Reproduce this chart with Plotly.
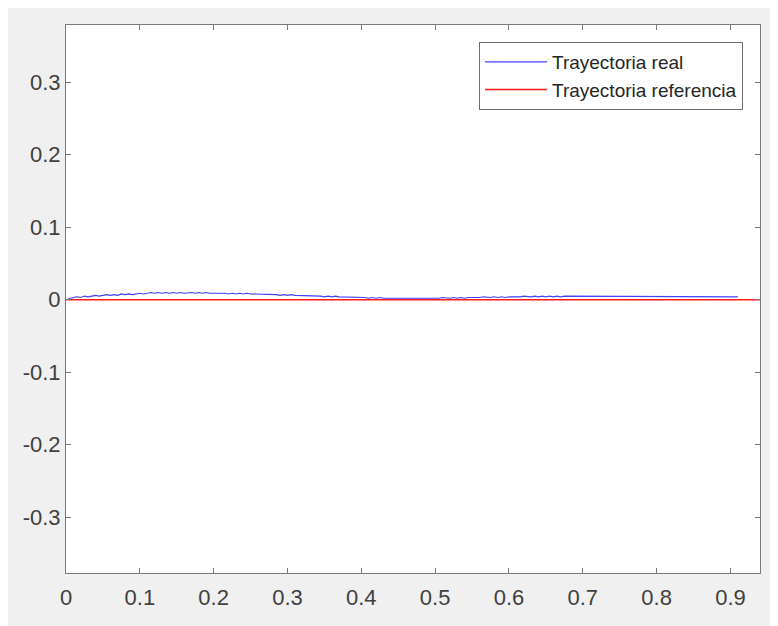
import plotly.graph_objects as go

real_y = [
    0.000, 0.002, 0.003, 0.004, 0.003, 0.005, 0.004, 0.005, 0.006, 0.005, 0.006,
    0.007, 0.006, 0.007, 0.006, 0.008, 0.007, 0.008, 0.007, 0.008, 0.009,
    0.008, 0.009, 0.010, 0.009, 0.010, 0.009, 0.010, 0.009, 0.010, 0.009,
    0.010, 0.009, 0.010, 0.010, 0.009, 0.010, 0.009, 0.010, 0.009, 0.009,
    0.010, 0.009, 0.009, 0.008, 0.009, 0.008, 0.009, 0.008, 0.009, 0.008,
    0.008, 0.007, 0.008, 0.007, 0.008, 0.007, 0.007, 0.006, 0.007, 0.006,
    0.007, 0.006, 0.006, 0.005, 0.006, 0.005, 0.006, 0.005, 0.005, 0.004,
    0.005, 0.004, 0.005, 0.004, 0.004, 0.003, 0.004, 0.003, 0.004, 0.003,
    0.003, 0.002, 0.003, 0.002, 0.003, 0.002, 0.002, 0.001, 0.002, 0.002,
    0.001, 0.002, 0.001, 0.002, 0.002, 0.001, 0.002, 0.002, 0.001, 0.002,
    0.002, 0.003, 0.002, 0.002, 0.003, 0.002, 0.003, 0.002, 0.003, 0.003,
    0.002, 0.003, 0.004, 0.003, 0.003, 0.004, 0.003, 0.004, 0.003, 0.004,
    0.004, 0.003, 0.004, 0.005, 0.004, 0.004, 0.005, 0.004, 0.005, 0.004,
    0.005, 0.004, 0.005, 0.004, 0.005, 0.005, 0.004, 0.005, 0.004, 0.005,
    0.005, 0.004, 0.005, 0.005, 0.004, 0.005, 0.004, 0.005, 0.005, 0.004,
    0.005, 0.004, 0.005, 0.004, 0.005, 0.005, 0.004, 0.005, 0.004, 0.005,
    0.005, 0.004, 0.005, 0.005, 0.004, 0.005, 0.004, 0.005, 0.005, 0.004,
    0.005, 0.004, 0.005, 0.004, 0.004, 0.005, 0.004, 0.005, 0.004, 0.004,
    0.004, 0.004,
]
real_x = [round(i * 0.005, 3) for i in range(len(real_y))]

# Reference trajectory
ref_x = [0.0, 0.95]
ref_y = [0.0, 0.0]

x_ticks = [0, 0.1, 0.2, 0.3, 0.4, 0.5, 0.6, 0.7, 0.8, 0.9]
x_tick_labels = ["0", "0.1", "0.2", "0.3", "0.4", "0.5", "0.6", "0.7", "0.8", "0.9"]
y_ticks = [-0.3, -0.2, -0.1, 0, 0.1, 0.2, 0.3]
y_tick_labels = ["-0.3", "-0.2", "-0.1", "0", "0.1", "0.2", "0.3"]

fig = go.Figure()
fig.add_trace(go.Scatter(x=ref_x, y=ref_y, mode="lines", name="Trayectoria referencia",
                         line=dict(color="#ff1a1a", width=1.5), showlegend=True))
fig.add_trace(go.Scatter(x=real_x, y=real_y, mode="lines", name="Trayectoria real",
                         line=dict(color="#4040ff", width=1.1)))

axis_common = dict(showgrid=False, zeroline=False, showline=True, linecolor="#7a7a7a",
                   linewidth=1, mirror="allticks", ticks="inside", ticklen=5,
                   tickcolor="#7a7a7a",
                   tickfont=dict(family="Liberation Sans, Arial", size=22, color="#404040"))

fig.update_layout(
    width=770, height=618,
    margin=dict(l=58, r=18, t=17, b=53),
    paper_bgcolor="#f0f0f0",
    plot_bgcolor="#ffffff",
    xaxis=dict(range=[0, 0.94], tickvals=x_ticks, ticktext=x_tick_labels,
               ticklabelstandoff=5, **axis_common),
    yaxis=dict(range=[-0.377, 0.379], tickvals=y_ticks, ticktext=y_tick_labels, **axis_common),
    legend=dict(x=0.9755, y=0.969, xanchor="right", yanchor="top",
                bgcolor="#ffffff", bordercolor="#6e6e6e", borderwidth=1,
                font=dict(family="Liberation Sans, Arial", size=19, color="#262626"),
                itemwidth=62, tracegroupgap=0, traceorder="reversed"),
    showlegend=True,
)

fig.write_html("out.html")
